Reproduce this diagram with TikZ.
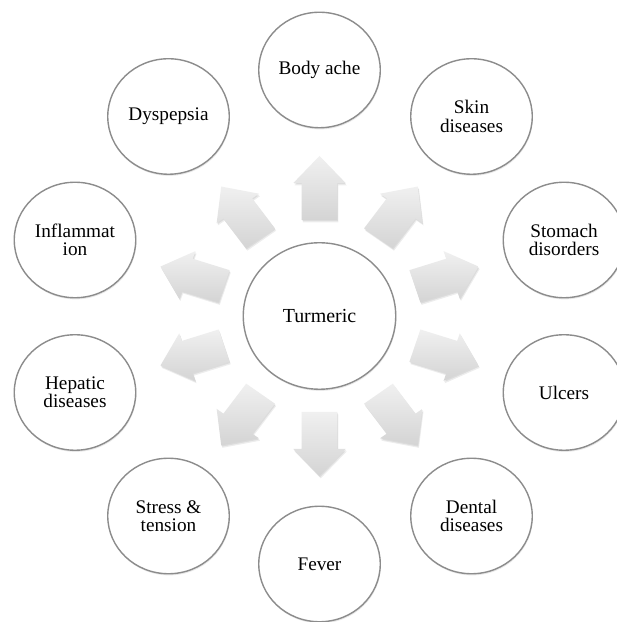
\documentclass[tikz,border=0pt]{standalone}
\usepackage{fontspec}
\setmainfont{Liberation Serif}
\usetikzlibrary{shapes.geometric,shadows}
\definecolor{ring}{RGB}{140,140,140}
\definecolor{arrtop}{RGB}{240,240,240}
\definecolor{arrbot}{RGB}{212,212,212}
\begin{document}
\begin{tikzpicture}[x=1bp,y=1bp,
  bub/.style={ellipse, draw=ring, line width=1.4bp, fill=white,
    minimum width=121.5bp, minimum height=115.5bp, inner sep=0pt,
    align=center, font=\fontsize{19.3}{18.5}\selectfont,
    drop shadow={shadow xshift=0.6bp, shadow yshift=-1.6bp, opacity=0.18}},
  hub/.style={bub, minimum width=152.5bp, minimum height=146.5bp,
    font=\fontsize{20}{20}\selectfont},
  arrowbody/.style={top color=arrtop, bottom color=arrbot, draw=none},
  arrowshadow/.style={fill=black, opacity=0.07, draw=none}]
\useasboundingbox (0,0) rectangle (617,622);
\fill[white] (0,0) rectangle (617,622);

% hub and outer circles
\node[hub] (turmeric) at (319.5,306) {Turmeric};
\node[bub] (bodyache) at (319.5,552) {Body ache};
\node[bub] (skin) at (471.5,505.5) {Skin\\diseases};
\node[bub] (stomach) at (564,382) {Stomach\\disorders};
\node[bub] (ulcers) at (564,229.5) {Ulcers};
\node[bub] (dental) at (471.5,106) {Dental\\diseases};
\node[bub] (fever) at (319.5,58) {Fever};
\node[bub] (stress) at (168.5,106) {Stress \&\\tension};
\node[bub] (hepatic) at (75,229.5) {Hepatic\\diseases};
\node[bub] (inflam) at (75,382) {Inflammat\\ion};
\node[bub] (dysp) at (168.5,505.5) {Dyspepsia};

% block arrows radiating from the hub
\foreach \a in {90,54,18,-18,-54,-90,-126,-162,162,126}{
  \pgfmathsetmacro\ca{cos(\a)}
  \pgfmathsetmacro\sa{sin(\a)}
  \foreach \dx/\dy in {1.2/-2.4, 0.6/-1.2}{
    \fill[arrowshadow]
      ({319.5+\dx+1.045*(96*\ca-17*\sa)},{306+\dy+96*\sa+17*\ca}) --
      ({319.5+\dx+1.045*(133*\ca-17*\sa)},{306+\dy+133*\sa+17*\ca}) --
      ({319.5+\dx+1.045*(133*\ca-25*\sa)},{306+\dy+133*\sa+25*\ca}) --
      ({319.5+\dx+1.045*(160*\ca)},{306+\dy+160*\sa}) --
      ({319.5+\dx+1.045*(133*\ca+25*\sa)},{306+\dy+133*\sa-25*\ca}) --
      ({319.5+\dx+1.045*(133*\ca+17*\sa)},{306+\dy+133*\sa-17*\ca}) --
      ({319.5+\dx+1.045*(96*\ca+17*\sa)},{306+\dy+96*\sa-17*\ca}) -- cycle;
  }
  \path[arrowbody]
    ({319.5+1.045*(96*\ca-17*\sa)},{306+96*\sa+17*\ca}) --
    ({319.5+1.045*(133*\ca-17*\sa)},{306+133*\sa+17*\ca}) --
    ({319.5+1.045*(133*\ca-25*\sa)},{306+133*\sa+25*\ca}) --
    ({319.5+1.045*(160*\ca)},{306+160*\sa}) --
    ({319.5+1.045*(133*\ca+25*\sa)},{306+133*\sa-25*\ca}) --
    ({319.5+1.045*(133*\ca+17*\sa)},{306+133*\sa-17*\ca}) --
    ({319.5+1.045*(96*\ca+17*\sa)},{306+96*\sa-17*\ca}) -- cycle;
}
\end{tikzpicture}
\end{document}
